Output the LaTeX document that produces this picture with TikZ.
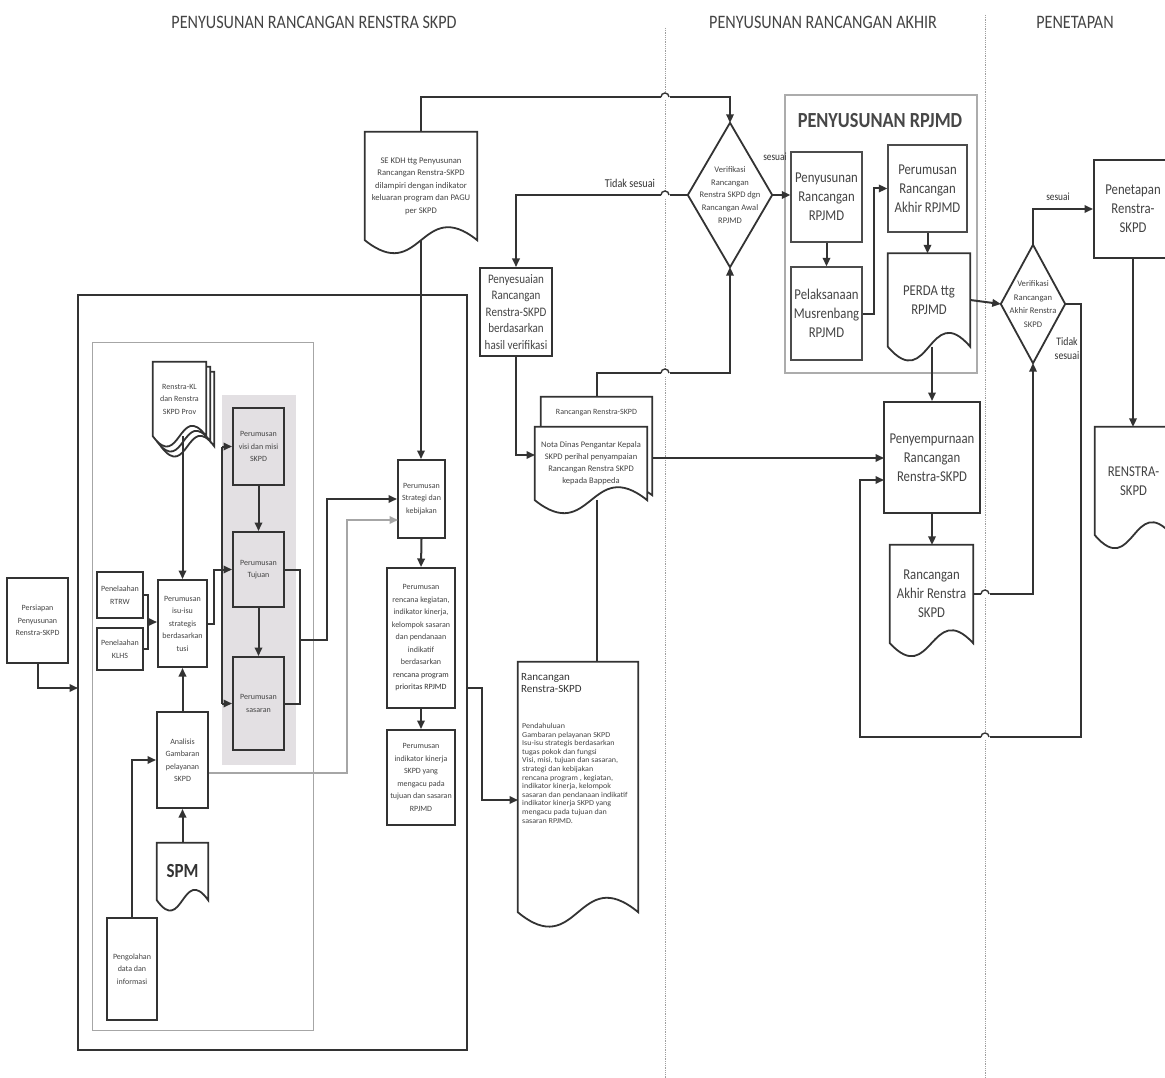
\documentclass[tikz,border=0pt]{standalone}
\usepackage{fontspec}
\setmainfont{Carlito}
\newfontfamily\cnd[FakeStretch=0.85]{Carlito}
\newfontfamily\wde[FakeStretch=1.07]{Carlito}
\usetikzlibrary{arrows.meta,calc}
\pgfdeclarelayer{back}
\pgfdeclarelayer{docs}
\pgfsetlayers{back,docs,main}
\definecolor{ink}{HTML}{333333}
\definecolor{txt}{HTML}{444444}
\definecolor{shadegray}{HTML}{E3E0E3}
\newcommand\szH{\cnd\fontsize{19}{22}\selectfont}
\newcommand\szT{\cnd\bfseries\fontsize{21.5}{24}\selectfont}
\newcommand\szM{\cnd\fontsize{15}{19}\selectfont}
\newcommand\szN{\cnd\fontsize{13}{16.5}\selectfont}
\newcommand\szS{\fontsize{8}{12.5}\selectfont}
\newcommand\szSE{\fontsize{8.6}{12.5}\selectfont}
\newcommand\szX{\wde\fontsize{7.5}{8.6}\selectfont}
\newcommand\szNota{\fontsize{8.5}{12}\selectfont}
\newcommand\szRRT{\fontsize{11}{12.5}\selectfont}
\newcommand\szDia{\fontsize{8.5}{12.8}\selectfont}
\newcommand\szDiaB{\fontsize{8.6}{13.5}\selectfont}
\newcommand\szSes{\cnd\fontsize{11}{12}\selectfont}
\newcommand\szTid{\cnd\fontsize{12}{13}\selectfont}
\newcommand\szTidB{\cnd\fontsize{11.5}{14}\selectfont}
\newcommand\szSPM{\cnd\bfseries\fontsize{20}{22}\selectfont}
\newcommand\docshape[3]{%
  \begin{pgfonlayer}{docs}
  \filldraw[docl] ($(#1.south west)+#3$) -- ($(#1.north west)+#3$) -- ($(#1.north east)+#3$) -- ($(#1.south east)+#3$)
    .. controls ($(#1.south)+#3+(0,-#2)$) and ($(#1.south)+#3+(0,#2)$) .. ($(#1.south west)+#3$) -- cycle;
  \end{pgfonlayer}}
\newcommand\diashape[1]{%
  \begin{pgfonlayer}{docs}
  \filldraw[docl] (#1.north) -- (#1.east) -- (#1.south) -- (#1.west) -- cycle;
  \end{pgfonlayer}}
\newcommand\hop[2]{%
  \fill[white] (#1-4.5,#2-3) rectangle (#1+4.5,#2+3);
  \draw[ink, line width=1.4pt] (#1-4,#2) arc[start angle=180,end angle=0,radius=4pt];}
\begin{document}
\begin{tikzpicture}[x=1pt,y=-1pt,
  every node/.style={text=txt, inner sep=1pt},
  sz/.style 2 args={minimum width=#1pt, minimum height=#2pt},
  ln/.style={draw=ink, line width=2pt},
  arr/.style={draw=ink, line width=2pt, -{Triangle[length=8.5pt,width=7.5pt]}},
  garr/.style={draw=gray!70, line width=1.7pt, -{Triangle[length=8.5pt,width=7.5pt]}},
  box/.style={draw=ink, line width=2pt, fill=white, align=center},
  lbox/.style={draw=gray!60!black, line width=1.4pt, fill=white, align=center},
  frame/.style={draw=none, align=center},
  docl/.style={draw=ink, line width=1.8pt, fill=white},
  divider/.style={draw=gray!75, line width=0.8pt, densely dotted}]
\useasboundingbox (0,0) rectangle (1165,1078);
\begin{pgfonlayer}{back}
  \fill[white] (0,0) rectangle (1165,1078);
  \draw[divider] (665,28) -- (665,1078);
  \draw[divider] (985,15) -- (985,1078);
  \fill[shadegray] (222,395) rectangle (296,765);
\end{pgfonlayer}

% headers
\node[font=\szH] (h1) at (314,22) {PENYUSUNAN RANCANGAN RENSTRA SKPD};
\node[font=\szH] (h2) at (823,22) {PENYUSUNAN RANCANGAN AKHIR};
\node[font=\szH] (h3) at (1075,22) {PENETAPAN};

% frames
\node[draw=ink, line width=1.4pt, sz={389}{755}] (outer) at (272.5,672.5) {};
\node[draw=gray!70, line width=1pt, sz={221}{688}] (inner) at (202.5,686) {};
\node[draw=gray!65, line width=2.4pt, sz={192}{278}] (rpjmd) at (881,234) {};
\node[text=ink!90, font=\szT] (rpjmdT) at (880,121) {PENYUSUNAN RPJMD};

% left region
\node[box, line width=1.4pt, sz={61}{85}, font=\szS] (persiapan) at (37.5,620.5) {Persiapan\\Penyusunan\\Renstra-SKPD};
\node[box, sz={46}{46}, font=\szS] (rtrw) at (120,595) {Penelaahan\\RTRW};
\node[box, sz={46}{42}, font=\szS] (klhs) at (120,649) {Penelaahan\\KLHS};
\node[box, sz={49}{87}, font=\szS] (isu) at (182.5,623.5) {Perumusan\\isu-isu\\strategis\\berdasarkan\\tusi};
\node[box, fill=shadegray, sz={51}{77}, font=\szS] (visi) at (258.5,446.5) {Perumusan\\visi dan misi\\SKPD};
\node[box, fill=shadegray, sz={51}{75}, font=\szS] (tujuan) at (258.5,569.5) {Perumusan\\Tujuan};
\node[box, fill=shadegray, sz={51}{93}, font=\szS] (sasaran) at (258.5,703.5) {Perumusan\\sasaran};
\node[box, sz={51}{96}, font=\szS] (analisis) at (182.5,760) {Analisis\\Gambaran\\pelayanan\\SKPD};
\node[frame, sz={51}{57}, font=\szSPM, text=ink] (spm) at (182.5,871.5) {SPM};
\docshape{spm}{36}{(0,0)}
\node[box, sz={50}{102}, font=\szS] (pengolahan) at (132,969) {Pengolahan\\data dan\\informasi};
\node[frame, sz={53}{74}, font=\szS] (kl) at (179.5,399) {Renstra-KL\\dan Renstra\\SKPD Prov};
\docshape{kl}{36}{(8,10)}
\docshape{kl}{36}{(4,5)}
\docshape{kl}{36}{(0,0)}

% middle column
\node[frame, sz={112}{108}, font=\szSE] (sekdh) at (421,186) {SE KDH ttg Penyusunan\\Rancangan Renstra-SKPD\\dilampiri dengan indikator\\keluaran program dan PAGU\\per SKPD};
\docshape{sekdh}{45}{(0,0)}
\node[box, sz={47}{78}, font=\szS] (strategi) at (421.5,499) {Perumusan\\Strategi dan\\kebijakan};
\node[box, sz={68}{140}, font=\szS] (rencana) at (421,638) {Perumusan\\rencana kegiatan,\\indikator kinerja,\\kelompok sasaran\\dan pendanaan\\indikatif\\berdasarkan\\\textcolor{ink}{rencana program}\\\textcolor{ink}{prioritas RPJMD}};
\node[box, sz={68}{95}, font=\szS] (indikator) at (421,777.5) {Perumusan\\indikator kinerja\\SKPD yang\\mengacu pada\\tujuan dan sasaran\\RPJMD};

\node[box, sz={72}{88}, font=\szN] (penyesuaian) at (516,312) {Penyesuaian\\Rancangan\\Renstra-SKPD\\berdasarkan\\hasil verifikasi};
\node[frame, sz={111}{98}] (back) at (596.5,446) {};
\docshape{back}{40}{(0,0)}
\node[font=\szS] (backT) at (596.5,413) {Rancangan Renstra-SKPD};
\node[frame, sz={112}{73}, font=\szNota] (nota) at (591,463.5) {Nota Dinas Pengantar Kepala\\SKPD perihal penyampaian\\Rancangan Renstra SKPD\\kepada Bappeda};
\docshape{nota}{45}{(0,0)}
\node[frame, sz={120}{250}] (rr) at (578,787) {};
\docshape{rr}{50}{(0,0)}
\node[anchor=north west, align=left, text=ink, font=\szRRT] (rrT) at (520,672) {Rancangan\\Renstra-SKPD};
\node[anchor=north west, align=left, font=\szX] (rrL) at (521,722) {Pendahuluan\\Gambaran pelayanan SKPD\\Isu-isu strategis berdasarkan\\tugas pokok dan fungsi\\Visi, misi, tujuan dan sasaran,\\strategi dan kebijakan\\rencana program , kegiatan,\\indikator kinerja, kelompok\\sasaran dan pendanaan indikatif\\indikator kinerja SKPD yang\\mengacu pada tujuan dan\\sasaran RPJMD.};

% diamond 1
\node[frame, sz={84}{144}, font=\szDia] (d1) at (730,195) {Verifikasi\\Rancangan\\Renstra SKPD dgn\\Rancangan Awal\\RPJMD};
\diashape{d1}
\node[text=ink, font=\szSes] (l1) at (775,157) {sesuai};
\node[text=ink, font=\szTid] (l2) at (630,183) {Tidak sesuai};

% RPJMD block
\node[lbox, sz={71}{90}, font=\szM] (penyRanc) at (826.5,197) {Penyusunan\\Rancangan\\RPJMD};
\node[lbox, sz={71}{93}, font=\szM] (pelaks) at (826.5,313.5) {Pelaksanaan\\Musrenbang\\RPJMD};
\node[lbox, sz={79}{87}, font=\szM] (perAkhir) at (927.5,188.5) {Perumusan\\Rancangan\\Akhir RPJMD};
\node[frame, sz={82}{93}, font=\szM] (perda) at (929,300) {PERDA ttg\\RPJMD};
\docshape{perda}{48}{(0,0)}

\node[box, sz={96}{111}, font=\szM] (penyemp) at (932,457.5) {Penyempurnaan\\Rancangan\\Renstra-SKPD};
\node[frame, sz={83}{98}, font=\szM] (rAkhir) at (931.5,594) {Rancangan\\Akhir Renstra\\SKPD};
\docshape{rAkhir}{45}{(0,0)}

% right
\node[frame, sz={64}{118}, font=\szDiaB] (d2) at (1033,304) {Verifikasi\\Rancangan\\Akhir Renstra\\SKPD};
\diashape{d2}
\node[text=ink, font=\szSes] (l3) at (1058,197) {sesuai};
\node[text=ink, align=center, font=\szTidB] (l4) at (1067,349) {Tidak\\sesuai};
\node[box, sz={78}{98}, font=\szM] (penetapan) at (1133,209) {Penetapan\\Renstra-\\SKPD};
\node[frame, sz={77}{108}, font=\szM] (renstra) at (1133.5,481) {RENSTRA-\\SKPD};
\docshape{renstra}{45}{(0,0)}

% coordinates for free ends
\coordinate (pin) at (78,688);
\coordinate (pout) at (467,688);
\coordinate (rrin) at (518,800);
\coordinate (m1) at (148,622);
\coordinate (bus) at (222,0);
\coordinate (m2) at (300,640);
\coordinate (m3) at (327,640);
\coordinate (sin2) at (398,520);
\coordinate (notain) at (535,455);
\coordinate (nout) at (652,458);
\coordinate (pin1) at (884,458);
\coordinate (pin2) at (884,480);
\coordinate (c1) at (1081,737);
\coordinate (c2) at (860,737);

% connectors - left
\draw[arr] (persiapan.south) |- (pin);
\draw[ln] (rtrw.east) -| (m1) |- (klhs.east);
\draw[arr] (m1) -- (isu.west |- m1);
\draw[arr] (isu.north |- kl.south) -- (isu.north);
\draw[arr] (analisis.north) -- (isu.south);
\draw[arr] (spm.north) -- (analisis.south);
\draw[arr] (pengolahan.north) |- (analisis.west);
\draw[arr] (isu.east) -- ++(6,0) |- (tujuan.west);
\draw[ln] (bus |- visi.west) -- (bus |- sasaran.west);
\draw[arr] (bus |- visi.west) -- (visi.west);
\draw[arr] (bus |- sasaran.west) -- (sasaran.west);
\draw[arr] (visi.south) -- (tujuan.north);
\draw[arr] (tujuan.south) -- (sasaran.north);
\draw[ln] (tujuan.east) -| (m2) |- (sasaran.east);
\draw[arr] (m2) -- (m3) |- (strategi.west);
\draw[garr] ($(analisis.east)+(0,13)$) -| ($(sin2)+(-51,0)$) -- (sin2);

% middle
\draw[arr] (sekdh.south) -- (sekdh.south |- strategi.north);
\draw[arr] (strategi.south) -- (rencana.north);
\draw[arr] (rencana.south) -- (indikator.north);
\draw[arr] (pout) -- ++(15,0) |- (rrin);
\draw[ln] (back.north |- rr.north) -- (back.north |- nota.south);
\draw[arr] (sekdh.north) -- ++(0,-35) -| (d1.north);
\draw[arr] (d1.west) -| (penyesuaian.north);
\draw[arr] (penyesuaian.south) |- (notain);
\draw[arr] (back.north) -- ++(0,-24) -| (d1.south);
\draw[arr] (d1.east) -- (d1.east -| penyRanc.west);
\draw[arr] (nout) -- (pin1);

% RPJMD block
\draw[arr] (penyRanc.south) -- (pelaks.north);
\draw[arr] (pelaks.east) -- ++(11,0) |- (perAkhir.west);
\draw[arr] (perAkhir.south) -- (perAkhir.south |- perda.north);
\draw[arr] (penyemp.north |- perda.south) -- (penyemp.north);
\draw[arr] (perda.east) -- (d2.west);
\draw[arr] (penyemp.south) -- (penyemp.south |- rAkhir.north);
\draw[arr] (rAkhir.east) -| (d2.south);
\draw[arr] (d2.north) |- (penetapan.west);
\draw[arr] (d2.east) -| (c1) -- (c2) |- (pin2);
\draw[arr] (penetapan.south) -- (penetapan.south |- renstra.north);

% hops over dividers
\hop{665}{97}
\hop{665}{195}
\hop{665}{373}
\hop{985}{594}
\hop{985}{737}
\end{tikzpicture}
\end{document}
